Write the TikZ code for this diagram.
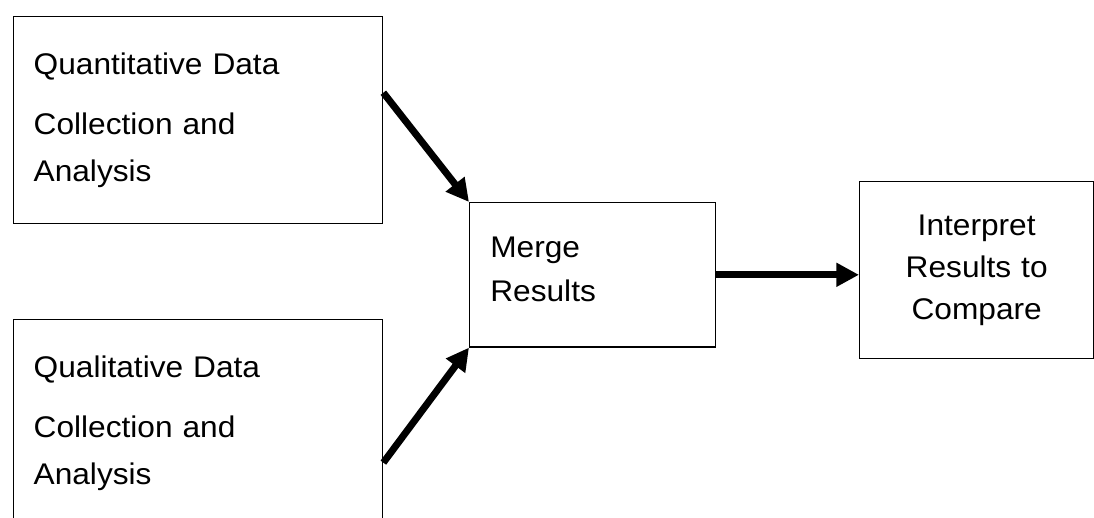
\documentclass[tikz,border=0pt]{standalone}
\usepackage{fontspec}
\setmainfont{Liberation Sans}[FakeStretch=1.06]
\usetikzlibrary{arrows.meta}
\begin{document}
\begin{tikzpicture}[x=0.75pt,y=-0.75pt,
  font=\fontsize{22.4pt}{35pt}\selectfont,
  box/.style={draw,line width=1pt,anchor=north west,inner ysep=0pt},
  datastage/.style={box,align=left,inner xsep=15pt,text width=246.75pt,minimum height=155.25pt},
  flow/.style={line width=5.25pt,-{Triangle[length=17pt,width=17pt]}}]
\useasboundingbox (0,0) rectangle (1094,517);
\node[datastage] (quant) at (13,16) {Quantitative Data\\[10pt]Collection and\\Analysis};
\node[datastage] (qual) at (13,319) {Qualitative Data\\[10pt]Collection and\\Analysis};
\node[box,align=left,inner xsep=15.5pt,text width=153.5pt,minimum height=108.2pt,text depth=41.2pt,
  font=\fontsize{22.4pt}{32.6pt}\selectfont] (merge) at (469,202) {Merge\\Results};
\node[box,align=center,inner xsep=10pt,text width=155.5pt,minimum height=132.75pt,text depth=67.7pt,
  font=\fontsize{22.4pt}{31.5pt}\selectfont] (interp) at (859,181) {Interpret\\Results to\\Compare};
\draw[flow] ([yshift=20.6pt]quant.east) -- (merge.north west);
\draw[flow] ([yshift=-29.6pt]qual.east) -- (merge.south west);
\draw[flow] (merge.east) -- (merge.east -| interp.west);
\end{tikzpicture}
\end{document}
